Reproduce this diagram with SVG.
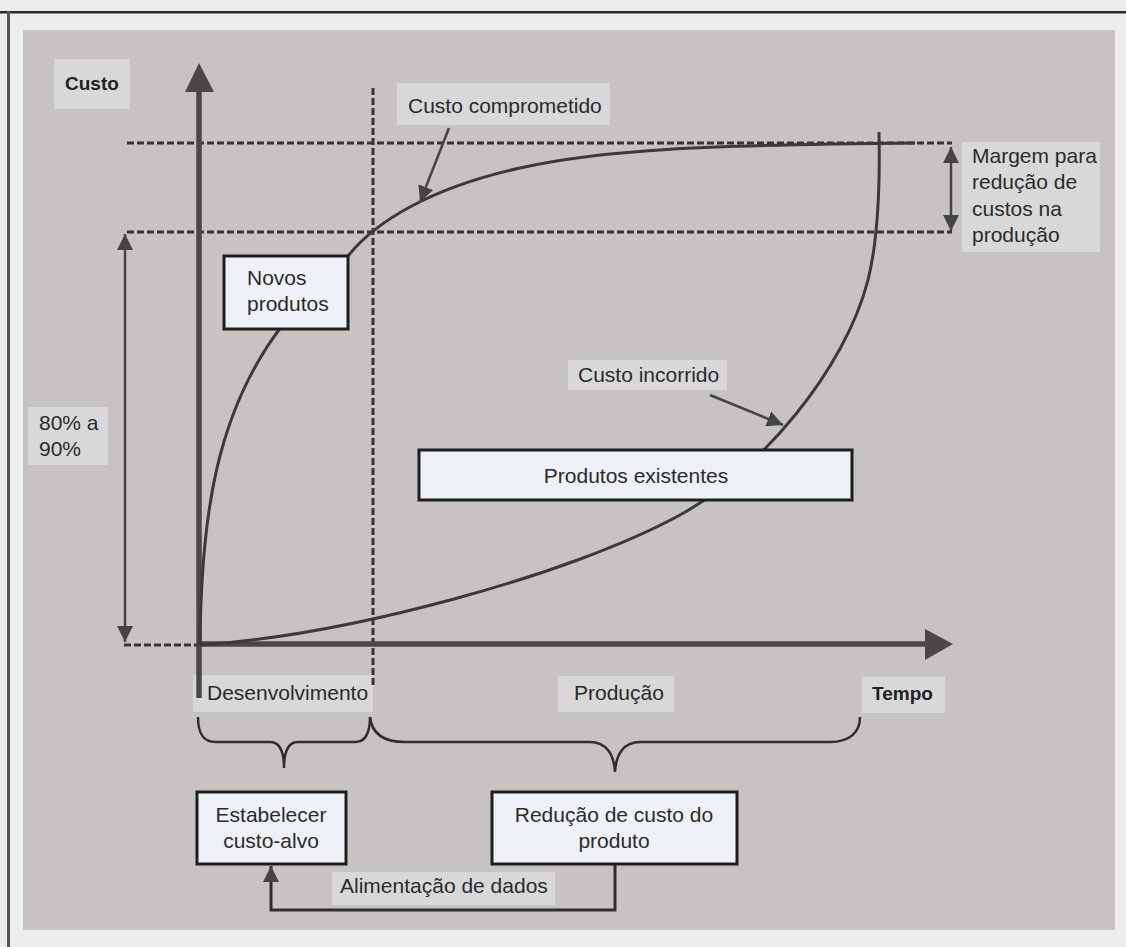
<svg xmlns="http://www.w3.org/2000/svg" width="1126" height="947" viewBox="0 0 1126 947">
<defs>
<style>
.t{font-family:"Liberation Sans",Arial,sans-serif;font-size:21px;fill:#2b2b2b}
.b{font-weight:bold;font-size:19px;fill:#222}
.lbl{fill:#d9d8d8}
.box{fill:#eef1f5;stroke:#1e1e1e;stroke-width:3}
.dash{fill:none;stroke:#353535;stroke-width:3;stroke-dasharray:7 3}
.curve{fill:none;stroke:#3a3a3a;stroke-width:3}
.thin{fill:none;stroke:#444;stroke-width:2.5}
.axis{fill:none;stroke:#4a4746;stroke-width:5.5}
.brace{fill:none;stroke:#2e2e2e;stroke-width:2.5}
</style>
<marker id="ah" markerUnits="userSpaceOnUse" markerWidth="17" markerHeight="16" refX="16" refY="8" orient="auto-start-reverse">
<path d="M0,0 L16,8 L0,16 z" fill="#444"/>
</marker>
</defs>

<g id="background">
<rect x="0" y="0" width="1126" height="947" fill="#eceeee"/>
<rect x="0" y="11" width="1126" height="2.5" fill="#2a2a2a"/>
<rect x="7" y="11" width="3" height="936" fill="#555"/>
<rect x="23" y="30" width="1092" height="900" fill="#c7c3c2"/>
</g>

<g id="label-custo"><rect class="lbl" x="54" y="59" width="76" height="50"/><text class="t b" x="65" y="90">Custo</text></g>
<g id="label-comprometido"><rect class="lbl" x="397" y="83" width="213" height="42"/><text class="t" x="408" y="113">Custo comprometido</text></g>
<g id="label-margem"><rect class="lbl" x="962" y="142" width="138" height="110"/>
<text class="t" x="972" y="163">Margem para</text>
<text class="t" x="972" y="189">redução de</text>
<text class="t" x="972" y="216">custos na</text>
<text class="t" x="972" y="242">produção</text></g>
<g id="label-percent"><rect class="lbl" x="28" y="407" width="80" height="58"/>
<text class="t" x="39" y="430">80% a</text>
<text class="t" x="39" y="456">90%</text></g>
<g id="label-incorrido"><rect class="lbl" x="568" y="360" width="159" height="30"/><text class="t" x="578" y="382">Custo incorrido</text></g>
<g id="label-desenvolvimento"><rect class="lbl" x="193" y="675" width="180" height="37"/><text class="t" x="207" y="700">Desenvolvimento</text></g>
<g id="label-producao"><rect class="lbl" x="558" y="676" width="116" height="36"/><text class="t" x="574" y="700">Produção</text></g>
<g id="label-tempo"><rect class="lbl" x="862" y="677" width="83" height="36"/><text class="t b" x="872" y="700">Tempo</text></g>
<g id="label-alimentacao"><rect class="lbl" x="332" y="872" width="223" height="33"/><text class="t" x="340" y="893">Alimentação de dados</text></g>

<g id="connectors">
<line class="dash" x1="127" y1="143" x2="952" y2="143"/>
<line class="dash" x1="127" y1="232" x2="952" y2="232"/>
<line class="dash" x1="124" y1="645" x2="200" y2="645"/>
<line class="dash" x1="373" y1="88" x2="373" y2="685"/>
<line class="axis" x1="199" y1="88" x2="199" y2="698"/>
<polygon points="199,63 185,92 214,92" fill="#4a4746"/>
<line class="axis" x1="197" y1="644" x2="927" y2="644"/>
<polygon points="953,644 925,629 925,660" fill="#4a4746"/>
<path class="curve" d="M200,645 C201,520 215,410 285,322 L348,256 C375,222 430,188 520,168 C600,150 700,145 915,143"/>
<path class="curve" d="M200,645 C350,635 570,575 680,515 C760,471 845,370 868,280 C878,240 880,180 879,132"/>
<line class="thin" x1="449" y1="128" x2="420" y2="202" marker-end="url(#ah)"/>
<line class="thin" x1="710" y1="395" x2="783" y2="425" marker-end="url(#ah)"/>
<line class="thin" x1="125" y1="234" x2="125" y2="642" marker-start="url(#ah)" marker-end="url(#ah)"/>
<line class="thin" x1="951" y1="147" x2="951" y2="231" stroke-width="3" marker-start="url(#ah)" marker-end="url(#ah)"/>
<path class="brace" d="M198,717 C198,735 204,742 216,742 L270,742 C280,742 284,752 284,768 C284,752 288,742 298,742 L355,742 C366,742 370,732 370,717"/>
<path class="brace" d="M370,717 C372,735 385,742 405,742 L590,742 C606,742 614,754 615,772 C616,754 624,742 640,742 L830,742 C850,742 860,732 860,717"/>
<polyline points="615,864 615,910 271,910 271,866" fill="none" stroke="#2e2e2e" stroke-width="3" marker-end="url(#ah)"/>
</g>

<g id="node-novos"><rect class="box" x="224" y="256" width="124" height="73"/>
<text class="t" x="247" y="285">Novos</text>
<text class="t" x="247" y="311">produtos</text></g>
<g id="node-existentes"><rect class="box" x="419" y="450" width="433" height="50"/>
<text class="t" x="636" y="483" text-anchor="middle">Produtos existentes</text></g>
<g id="node-estabelecer"><rect class="box" x="197" y="792" width="149" height="72"/>
<text class="t" x="271" y="822" text-anchor="middle">Estabelecer</text>
<text class="t" x="271" y="848" text-anchor="middle">custo-alvo</text></g>
<g id="node-reducao"><rect class="box" x="492" y="792" width="245" height="72"/>
<text class="t" x="614" y="822" text-anchor="middle">Redução de custo do</text>
<text class="t" x="614" y="848" text-anchor="middle">produto</text></g>
</svg>
